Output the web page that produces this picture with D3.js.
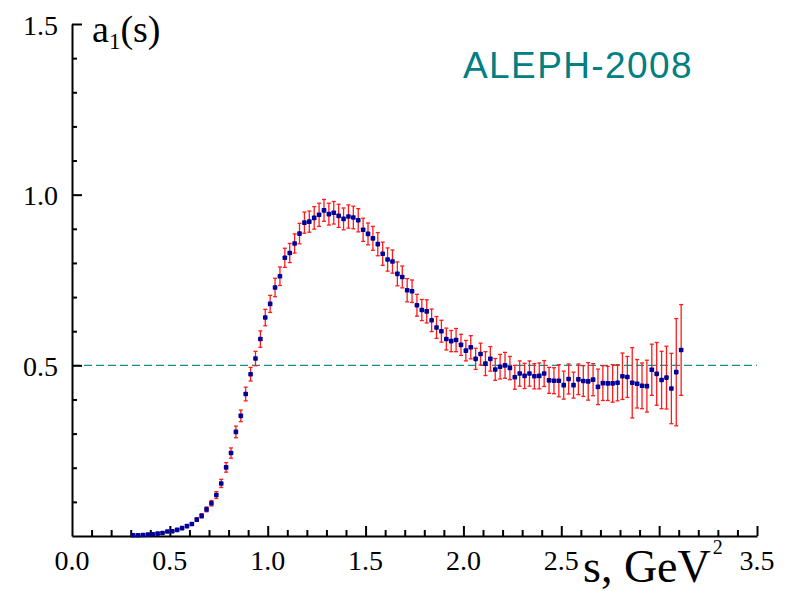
<!DOCTYPE html>
<html>
<head>
<meta charset="utf-8">
<script src="https://cdn.jsdelivr.net/npm/d3@7"></script>
<style>
  body { margin: 0; background: #fff; }
  svg { display: block; }
</style>
</head>
<body>
<div id="chart"></div>
<script>
// bin centres, GeV^2
var s_values = [
  0.3125, 0.3375, 0.3625, 0.3875, 0.4125, 0.4375, 0.4625, 0.4875, 0.5125, 0.5375,
  0.5625, 0.5875, 0.6125, 0.6375, 0.6625, 0.6875, 0.7125, 0.7375, 0.7625, 0.7875,
  0.8125, 0.8375, 0.8625, 0.8875, 0.9125, 0.9375, 0.9625, 0.9875, 1.0125, 1.0375,
  1.0625, 1.0875, 1.1125, 1.1375, 1.1625, 1.1875, 1.2125, 1.2375, 1.2625, 1.2875,
  1.3125, 1.3375, 1.3625, 1.3875, 1.4125, 1.4375, 1.4625, 1.4875, 1.5125, 1.5375,
  1.5625, 1.5875, 1.6125, 1.6375, 1.6625, 1.6875, 1.7125, 1.7375, 1.7625, 1.7875,
  1.8125, 1.8375, 1.8625, 1.8875, 1.9125, 1.9375, 1.9625, 1.9875, 2.0125, 2.0375,
  2.0625, 2.0875, 2.1125, 2.1375, 2.1625, 2.1875, 2.2125, 2.2375, 2.2625, 2.2875,
  2.3125, 2.3375, 2.3625, 2.3875, 2.4125, 2.4375, 2.4625, 2.4875, 2.5125, 2.5375,
  2.5625, 2.5875, 2.6125, 2.6375, 2.6625, 2.6875, 2.7125, 2.7375, 2.7625, 2.7875,
  2.8125, 2.8375, 2.8625, 2.8875, 2.9125, 2.9375, 2.9625, 2.9875, 3.0125, 3.0375,
  3.0625, 3.0875, 3.1125
];

var a1_values = [
  0.002, 0.002, 0.003, 0.004, 0.005, 0.007, 0.009, 0.013, 0.014, 0.018,
  0.023, 0.029, 0.035, 0.048, 0.059, 0.078, 0.096, 0.120, 0.154, 0.201,
  0.243, 0.305, 0.352, 0.416, 0.474, 0.520, 0.577, 0.640, 0.680, 0.728,
  0.761, 0.815, 0.829, 0.857, 0.886, 0.918, 0.921, 0.932, 0.941, 0.954,
  0.943, 0.947, 0.938, 0.929, 0.936, 0.933, 0.925, 0.897, 0.885, 0.872,
  0.855, 0.827, 0.810, 0.804, 0.768, 0.759, 0.720, 0.717, 0.676, 0.662,
  0.658, 0.632, 0.611, 0.600, 0.577, 0.571, 0.574, 0.560, 0.543, 0.553,
  0.519, 0.533, 0.505, 0.519, 0.488, 0.496, 0.500, 0.492, 0.465, 0.476,
  0.469, 0.476, 0.468, 0.469, 0.476, 0.456, 0.455, 0.455, 0.442, 0.460,
  0.442, 0.459, 0.454, 0.453, 0.458, 0.437, 0.448, 0.447, 0.447, 0.449,
  0.468, 0.466, 0.449, 0.446, 0.440, 0.439, 0.487, 0.475, 0.457, 0.464,
  0.432, 0.480, 0.545
];

var a1_errors = [
  0.002, 0.002, 0.002, 0.002, 0.002, 0.002, 0.002, 0.002, 0.002, 0.003,
  0.003, 0.004, 0.004, 0.005, 0.006, 0.007, 0.008, 0.010, 0.012, 0.014,
  0.015, 0.017, 0.017, 0.020, 0.020, 0.021, 0.024, 0.024, 0.025, 0.027,
  0.027, 0.028, 0.028, 0.028, 0.030, 0.031, 0.031, 0.033, 0.034, 0.032,
  0.032, 0.033, 0.034, 0.032, 0.034, 0.033, 0.034, 0.034, 0.032, 0.035,
  0.034, 0.034, 0.034, 0.034, 0.035, 0.032, 0.034, 0.033, 0.032, 0.031,
  0.034, 0.033, 0.032, 0.032, 0.032, 0.031, 0.034, 0.031, 0.030, 0.034,
  0.031, 0.032, 0.035, 0.036, 0.032, 0.036, 0.038, 0.034, 0.035, 0.037,
  0.037, 0.037, 0.037, 0.038, 0.038, 0.038, 0.038, 0.047, 0.041, 0.044,
  0.038, 0.045, 0.045, 0.055, 0.047, 0.052, 0.051, 0.050, 0.055, 0.053,
  0.068, 0.060, 0.103, 0.071, 0.067, 0.076, 0.075, 0.092, 0.084, 0.092,
  0.103, 0.157, 0.133
];

var x_major_ticks = [0.5, 1.0, 1.5, 2.0, 2.5, 3.0, 3.5];
var x_minor_ticks = [0.1, 0.2, 0.3, 0.4, 0.6, 0.7, 0.8, 0.9, 1.1, 1.2, 1.3, 1.4,
                     1.6, 1.7, 1.8, 1.9, 2.1, 2.2, 2.3, 2.4, 2.6, 2.7, 2.8, 2.9,
                     3.1, 3.2, 3.3, 3.4];
// 3.0 has no label: the axis title sits there
var x_tick_labels = [0.0, 0.5, 1.0, 1.5, 2.0, 2.5, 3.5];
var y_major_ticks = [0.5, 1.0, 1.5];
var y_minor_ticks = [0.1, 0.2, 0.3, 0.4, 0.6, 0.7, 0.8, 0.9, 1.1, 1.2, 1.3, 1.4];
var reference_level = 0.5;

var width = 789, height = 591;
var serif = "'Liberation Serif', 'Times New Roman', serif";

var x = d3.scaleLinear().domain([0, 3.5]).range([72, 757]);
var y = d3.scaleLinear().domain([0, 1.5]).range([536, 24]);

var svg = d3.select("#chart").append("svg")
    .attr("width", width)
    .attr("height", height);

// dashed reference line at 0.5
svg.append("line")
    .attr("x1", x(0)).attr("x2", x(3.5))
    .attr("y1", y(reference_level)).attr("y2", y(reference_level))
    .attr("stroke", "#1a8a8a")
    .attr("stroke-width", 1.3)
    .attr("stroke-dasharray", "8,4");

// x axis: minor ticks, then major ticks, then labels
var x_axis_g = svg.append("g").attr("transform", "translate(0," + y(0) + ")");
x_axis_g.append("g")
    .call(d3.axisBottom(x).tickValues(x_minor_ticks).tickSize(-6).tickFormat(""))
    .call(function (g) { g.select(".domain").remove(); });
x_axis_g.append("g")
    .call(d3.axisBottom(x).tickValues(x_major_ticks).tickSize(-10).tickSizeOuter(0).tickFormat(""));
x_axis_g.append("g")
    .selectAll("text")
    .data(x_tick_labels)
    .enter().append("text")
    .attr("x", function (d) { return x(d); })
    .attr("y", 34)
    .attr("text-anchor", "middle")
    .style("font-family", serif)
    .style("font-size", "28px")
    .text(function (d) { return d.toFixed(1); });

// y axis
var y_axis_g = svg.append("g").attr("transform", "translate(" + x(0) + ",0)");
y_axis_g.append("g")
    .call(d3.axisLeft(y).tickValues(y_minor_ticks).tickSize(-5).tickFormat(""))
    .call(function (g) { g.select(".domain").remove(); });
y_axis_g.append("g")
    .call(d3.axisLeft(y).tickValues(y_major_ticks).tickSize(-10).tickSizeOuter(0)
        .tickFormat(function (d) { return d.toFixed(1); }))
    .call(function (g) {
      g.selectAll("text")
          .attr("x", -14)
          .attr("dy", "0.36em")
          .style("font-family", serif)
          .style("font-size", "28px")
          .attr("fill", "#000");
    });

svg.selectAll(".domain, .tick line")
    .attr("stroke", "#000")
    .attr("stroke-width", 2);

// error bars
var bars = svg.append("g")
    .attr("stroke", "#ff1a1a")
    .attr("stroke-width", 1.3);
s_values.forEach(function (s, i) {
  var cx = x(s),
      lo = y(a1_values[i] - a1_errors[i]),
      hi = y(a1_values[i] + a1_errors[i]);
  bars.append("line").attr("x1", cx).attr("x2", cx).attr("y1", lo).attr("y2", hi);
  bars.append("line").attr("x1", cx - 2).attr("x2", cx + 2).attr("y1", lo).attr("y2", lo);
  bars.append("line").attr("x1", cx - 2).attr("x2", cx + 2).attr("y1", hi).attr("y2", hi);
});

// points
svg.append("g").selectAll("rect")
    .data(s_values)
    .enter().append("rect")
    .attr("x", function (d) { return x(d) - 2.3; })
    .attr("y", function (d, i) { return y(a1_values[i]) - 2.3; })
    .attr("width", 4.6)
    .attr("height", 4.6)
    .attr("rx", 0.8)
    .attr("fill", "#00009a");

// axis titles
var y_title = svg.append("text")
    .attr("x", 92).attr("y", 42)
    .style("font-family", serif)
    .style("font-size", "38px");
y_title.append("tspan").text("a");
y_title.append("tspan").attr("dy", 7).style("font-size", "23px").text("1");
y_title.append("tspan").attr("dy", -7).text("(s)");

var x_title = svg.append("text")
    .attr("x", 583).attr("y", 582)
    .style("font-family", serif)
    .style("font-size", "46px");
x_title.append("tspan").text("s, GeV");
x_title.append("tspan").attr("dx", 2).attr("dy", -28).style("font-size", "20px").text("2");

svg.append("text")
    .attr("x", 463).attr("y", 78)
    .attr("fill", "#008080")
    .style("font-family", "'Liberation Sans', Arial, sans-serif")
    .style("font-size", "37px")
    .style("letter-spacing", "1.4px")
    .text("ALEPH-2008");
</script>
</body>
</html>
